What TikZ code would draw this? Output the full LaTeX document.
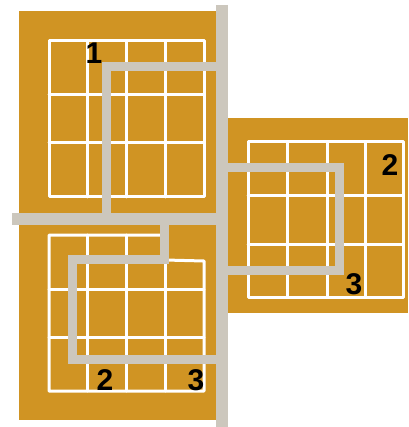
\documentclass[tikz,border=0pt]{standalone}
\usepackage{fontspec}
\setmainfont{Liberation Sans}
\definecolor{gold}{RGB}{208,148,35}
\definecolor{pipe}{RGB}{204,199,189}
\tikzset{
  panel/.style={fill=gold, draw=none},
  gridline/.style={draw=white, line width=3pt, line join=round, line cap=round},
  mainbar/.style={draw=pipe, line width=12pt},
  branch/.style={draw=pipe, line width=9pt, line join=miter},
  num/.style={font=\bfseries\fontsize{30}{30}\selectfont, inner sep=0pt, text=black}
}
\begin{document}
\begin{tikzpicture}[x=1pt,y=-1pt]
\useasboundingbox (0,0) rectangle (408,427);
% panels
\fill[panel] (19,11) rectangle (216,420);
\fill[panel] (228,118) rectangle (408,313);
% top-left grid
\draw[gridline] (49,41) rectangle (204,197);
\foreach \x in {87,126,165} \draw[gridline] (\x,41) -- (\x,197);
\foreach \y in {95,143} \draw[gridline] (49,\y) -- (204,\y);
% bottom-left grid
\draw[gridline] (165,235) -- (49,235) -- (49,391) -- (204,391) -- (204,261) -- (165,260);
\foreach \x in {87,126,165} \draw[gridline] (\x,235) -- (\x,391);
\foreach \y in {289,337} \draw[gridline] (49,\y) -- (204,\y);
% right grid
\draw[gridline] (248,142) rectangle (403,297);
\foreach \x in {287,327,365} \draw[gridline] (\x,142) -- (\x,297);
\foreach \y in {196,244} \draw[gridline] (248,\y) -- (403,\y);
% main bars
\coordinate (vtop) at (222,5);
\coordinate (vbot) at (222,427);
\coordinate (hleft) at (12,219);
\coordinate (hjoin) at (222,219);
\draw[mainbar] (vtop) -- (vbot);
\draw[mainbar] (hleft) -- (hjoin);
% branches
\coordinate (a0) at (222,67);
\coordinate (a1) at (106.5,67);
\coordinate (a2) at (106.5,219);
\draw[branch] (a0) -- (a1) -- (a2);
\coordinate (b0) at (164.5,219);
\coordinate (b1) at (164.5,259.5);
\coordinate (b2) at (72.5,259.5);
\coordinate (b3) at (72.5,359.5);
\coordinate (b4) at (222,359.5);
\draw[branch] (b0) -- (b1) -- (b2) -- (b3) -- (b4);
\coordinate (c0) at (222,167.5);
\coordinate (c1) at (339.5,167.5);
\coordinate (c2) at (339.5,270);
\coordinate (c3) at (222,270);
\draw[branch] (c0) -- (c1) -- (c2) -- (c3);
% labels
\node[num] (l1) at (94,53) {1};
\node[num] (l2a) at (105,380) {2};
\node[num] (l3a) at (196,380) {3};
\node[num] (l2b) at (390,165) {2};
\node[num] (l3b) at (354,284) {3};
\end{tikzpicture}
\end{document}
